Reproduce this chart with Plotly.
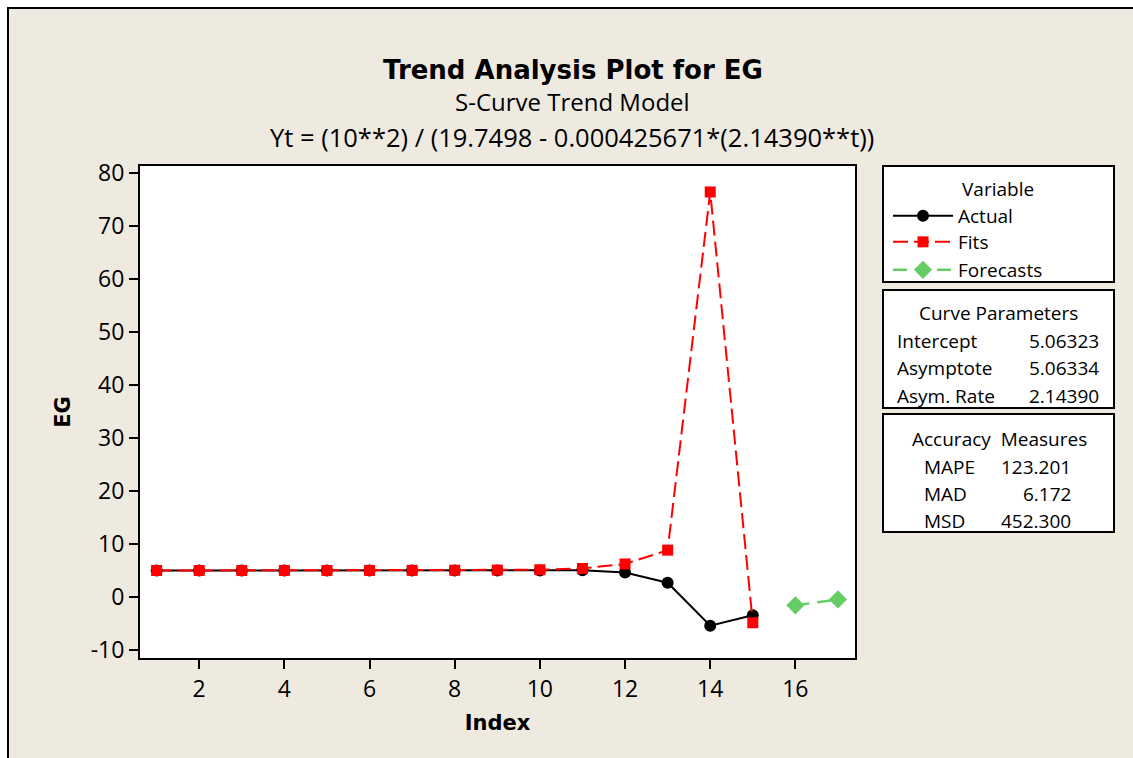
import plotly.graph_objects as go

# ---------------- data ----------------
index_actual = [1, 2, 3, 4, 5, 6, 7, 8, 9, 10, 11, 12, 13, 14, 15]
actual = [5.05, 5.05, 5.05, 5.05, 5.05, 5.05, 5.05, 5.05, 5.05, 5.05, 5.1, 4.7, 2.75, -5.35, -3.4]
fits = [5.06, 5.06, 5.06, 5.07, 5.07, 5.08, 5.09, 5.11, 5.14, 5.2, 5.45, 6.3, 8.9, 76.5, -4.8]
index_forecast = [16, 17]
forecasts = [-1.5, -0.4]

x_tickvals = [2, 4, 6, 8, 10, 12, 14, 16]
y_tickvals = [-10, 0, 10, 20, 30, 40, 50, 60, 70, 80]
y_ticktext = ["-10", "0", "10", "20", "30", "40", "50", "60", "70", "80"]

curve_labels = ["Intercept", "Asymptote", "Asym. Rate"]
curve_values = ["5.06323", "5.06334", "2.14390"]
acc_labels = ["MAPE", "MAD", "MSD"]
acc_values = ["123.201", "6.172", "452.300"]

title = "Trend Analysis Plot for EG"
subtitle = "S-Curve Trend Model"
equation = "Yt = (10**2) / (19.7498 - 0.000425671*(2.14390**t))"

# ---------------- geometry helpers (pixel -> paper) ----------------
W, H = 1133, 758
L, R, T, B = 140, 855, 166, 658
PW, PH = R - L, B - T


def px(x):
    return (x - L) / PW


def py(y):
    return (B - y) / PH


FONT = "Open Sans"
BOLD = "DejaVu Sans"
BEIGE = "#EEEAE0"
BOXFONT = 19

fig = go.Figure()

fig.add_trace(go.Scatter(
    x=index_actual, y=actual, mode="lines+markers", name="Actual",
    line=dict(color="black", width=2),
    marker=dict(symbol="circle", size=12, color="black"),
    legend="legend",
))
fig.add_trace(go.Scatter(
    x=index_actual, y=fits, mode="lines+markers", name="Fits",
    line=dict(color="#FF0000", width=2, dash="15px,6px"),
    marker=dict(symbol="square", size=11, color="#FF0000"),
    legend="legend2",
))
fig.add_trace(go.Scatter(
    x=index_forecast, y=forecasts, mode="lines+markers", name="Forecasts",
    line=dict(color="#66CC66", width=2.5, dash="14px,8px"),
    marker=dict(symbol="diamond", size=14, color="#66CC66"),
    legend="legend3",
))

shapes = [
    # outer frame
    dict(type="rect", xref="paper", yref="paper", layer="below",
         x0=px(8), x1=px(1145), y0=py(770), y1=py(8),
         fillcolor=BEIGE, line=dict(color="black", width=2)),
    # plot area background
    dict(type="rect", xref="paper", yref="paper", layer="below",
         x0=0, x1=1, y0=0, y1=1, fillcolor="white", line=dict(width=0)),
]
for (y0, y1) in [(166, 282), (290, 408), (414, 532)]:
    shapes.append(dict(type="rect", xref="paper", yref="paper", layer="below",
                       x0=px(883), x1=px(1114), y0=py(y1), y1=py(y0),
                       fillcolor="white", line=dict(color="black", width=2)))

annotations = [
    dict(text="<b>" + title + "</b>", x=px(573), y=py(70), xref="paper", yref="paper",
         showarrow=False, font=dict(family=BOLD, size=26, color="black"),
         xanchor="center", yanchor="middle"),
    dict(text=subtitle, x=px(572), y=py(102), xref="paper", yref="paper",
         showarrow=False, font=dict(family=FONT, size=24, color="black"),
         xanchor="center", yanchor="middle"),
    dict(text=equation, x=px(572), y=py(137), xref="paper", yref="paper",
         showarrow=False, font=dict(family=FONT, size=25.5, color="black"),
         xanchor="center", yanchor="middle"),
    dict(text="Variable", x=px(960), y=py(189), xref="paper", yref="paper",
         showarrow=False, font=dict(family=FONT, size=BOXFONT, color="black"),
         xanchor="left", yanchor="middle"),
    dict(text="Curve Parameters", x=px(998), y=py(313), xref="paper", yref="paper",
         showarrow=False, font=dict(family=FONT, size=BOXFONT, color="black"),
         xanchor="center", yanchor="middle"),
    dict(text="Accuracy  Measures", x=px(999), y=py(439), xref="paper", yref="paper",
         showarrow=False, font=dict(family=FONT, size=BOXFONT, color="black"),
         xanchor="center", yanchor="middle"),
]
for i, (lab, val) in enumerate(zip(curve_labels, curve_values)):
    yy = 341 + i * 27.3
    annotations.append(dict(text=lab, x=px(895), y=py(yy), xref="paper", yref="paper",
                            showarrow=False, font=dict(family=FONT, size=BOXFONT, color="black"),
                            xanchor="left", yanchor="middle"))
    annotations.append(dict(text=val, x=px(1101), y=py(yy), xref="paper", yref="paper",
                            showarrow=False, font=dict(family=FONT, size=BOXFONT, color="black"),
                            xanchor="right", yanchor="middle"))
for i, (lab, val) in enumerate(zip(acc_labels, acc_values)):
    yy = 466.5 + i * 27.3
    annotations.append(dict(text=lab, x=px(922), y=py(yy), xref="paper", yref="paper",
                            showarrow=False, font=dict(family=FONT, size=BOXFONT, color="black"),
                            xanchor="left", yanchor="middle"))
    annotations.append(dict(text=val, x=px(1073), y=py(yy), xref="paper", yref="paper",
                            showarrow=False, font=dict(family=FONT, size=BOXFONT, color="black"),
                            xanchor="right", yanchor="middle"))

legend_common = dict(bgcolor="rgba(0,0,0,0)", borderwidth=0, itemwidth=60,
                     font=dict(family=FONT, size=BOXFONT, color="black"),
                     xanchor="left", yanchor="middle", x=px(888))
fig.update_layout(
    width=W, height=H,
    margin=dict(l=L, r=W - R, t=T, b=H - B, pad=0),
    paper_bgcolor="white",
    plot_bgcolor="rgba(0,0,0,0)",
    shapes=shapes,
    annotations=annotations,
    showlegend=True,
    legend=dict(legend_common, y=py(216)),
    legend2=dict(legend_common, y=py(242)),
    legend3=dict(legend_common, y=py(270)),
    xaxis=dict(
        range=[0.61, 17.4], tickvals=x_tickvals, ticks="outside", ticklen=9,
        tickwidth=2, tickcolor="black", showgrid=False, zeroline=False,
        showline=True, linecolor="black", linewidth=2, mirror=True,
        tickfont=dict(family=FONT, size=23, color="black"),
        title=dict(text="<b>Index</b>", font=dict(family=BOLD, size=21, color="black"),
                   standoff=13),
    ),
    yaxis=dict(
        range=[-11.45, 81.4], tickvals=y_tickvals, ticktext=y_ticktext,
        ticks="outside", ticklen=9, tickwidth=2, tickcolor="black",
        showgrid=False, zeroline=False,
        showline=True, linecolor="black", linewidth=2, mirror=True,
        tickfont=dict(family=FONT, size=23, color="black"),
        title=dict(text="<b>EG</b>", font=dict(family=BOLD, size=21, color="black"),
                   standoff=14),
    ),
)

fig.write_html("out.html")
